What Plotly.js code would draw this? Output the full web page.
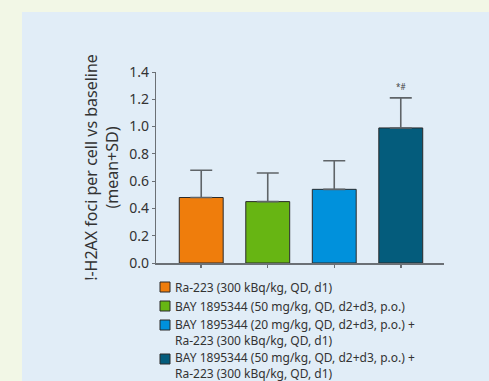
<!DOCTYPE html>
<html>
<head>
<meta charset="utf-8">
<script src="https://cdn.plot.ly/plotly-3.0.1.min.js"></script>
<style>html,body{margin:0;padding:0;background:#f2f7e6;}#chart{width:489px;height:381px;}</style>
</head>
<body>
<div id="chart"></div>
<script>
const categories = ["Ra-223", "BAY 50", "BAY 20 + Ra-223", "BAY 50 + Ra-223"];
const legendNames = [
  "Ra-223 (300 kBq/kg, QD, d1)",
  "BAY 1895344 (50 mg/kg, QD, d2+d3, p.o.)",
  "BAY 1895344 (20 mg/kg, QD, d2+d3, p.o.) +<br>Ra-223 (300 kBq/kg, QD, d1)",
  "BAY 1895344 (50 mg/kg, QD, d2+d3, p.o.) +<br>Ra-223 (300 kBq/kg, QD, d1)"
];
const means = [0.48, 0.45, 0.54, 0.99];
const sds = [0.20, 0.21, 0.21, 0.22];
const colors = ["#ef7d0c", "#67b513", "#0091dc", "#045c7c"];
const significance = ["", "", "", "*#"];
const yTickVals = [0, 0.2, 0.4, 0.6, 0.8, 1.0, 1.2, 1.4];
const yTickText = ["0.0", "0.2", "0.4", "0.6", "0.8", "1.0", "1.2", "1.4"];

const font = "Noto Sans, Open Sans, sans-serif";
// plot-area geometry (pixels) used to place the hand-drawn legend
const L = 156, R = 444, T = 72, B = 263;
const xp = px => (px - L) / (R - L);
const yp = py => (B - py) / (B - T);

const traces = categories.map((c, i) => ({
  type: "bar",
  x: [c],
  y: [means[i]],
  name: legendNames[i],
  width: 0.66,
  marker: {color: colors[i], line: {color: "#2a2a2a", width: 1}},
  error_y: {type: "data", array: [sds[i]], symmetric: false, arrayminus: [0], visible: true,
            color: "#5f6468", thickness: 1.6, width: 11},
  hoverinfo: "skip",
  showlegend: false
}));

const annotations = [];
const shapes = [{type: "rect", xref: "paper", yref: "paper", layer: "below",
  x0: xp(22), x1: xp(489), y0: yp(381), y1: yp(12),
  fillcolor: "#e1edf7", line: {width: 0}}];

categories.forEach((c, i) => {
  if (significance[i]) {
    annotations.push({x: c, y: means[i] + sds[i], yshift: 11, text: significance[i], showarrow: false,
      font: {family: font, size: 8, color: "#444"}, xref: "x", yref: "y"});
  }
});

// legend (squares + labels)
const legendSquareTop = [282, 301, 320, 354];
const legendTextCenter = [287, 306, 332, 365];
legendNames.forEach((name, i) => {
  const top = legendSquareTop[i];
  shapes.push({type: "rect", xref: "paper", yref: "paper",
    x0: xp(160), x1: xp(170), y0: yp(top + 10), y1: yp(top),
    fillcolor: colors[i], line: {color: "#2a2a2a", width: 1}});
  annotations.push({xref: "paper", yref: "paper", x: xp(173), y: yp(legendTextCenter[i]),
    xanchor: "left", yanchor: "middle", align: "left", showarrow: false, text: name,
    font: {family: font, size: 12, color: "#333"}});
});

const layout = {
  width: 489, height: 381,
  margin: {l: L, r: 489 - R, t: T, b: 381 - B},
  paper_bgcolor: "#f2f7e6",
  plot_bgcolor: "#e1edf7",
  font: {family: font, color: "#333"},
  showlegend: false,
  xaxis: {type: "category", range: [-0.68, 3.65], showline: true, linecolor: "#6b7075", linewidth: 1.5,
    ticks: "outside", ticklen: 3, tickcolor: "#6b7075", tickwidth: 1.5, showticklabels: false,
    showgrid: false, zeroline: false, fixedrange: true},
  yaxis: {range: [0, 1.4], tickvals: yTickVals, ticktext: yTickText, showline: true,
    linecolor: "#6b7075", linewidth: 1.2, ticks: "outside", ticklen: 3, tickcolor: "#6b7075",
    showgrid: false, zeroline: false, tickfont: {family: font, size: 14, color: "#333"},
    title: {text: "!-H2AX foci per cell vs baseline<br>(mean+SD)", font: {family: font, size: 16, color: "#333"}, standoff: 6}},
  shapes: shapes,
  annotations: annotations
};
Plotly.newPlot("chart", traces, layout, {staticPlot: true, displayModeBar: false});
</script>
</body>
</html>
